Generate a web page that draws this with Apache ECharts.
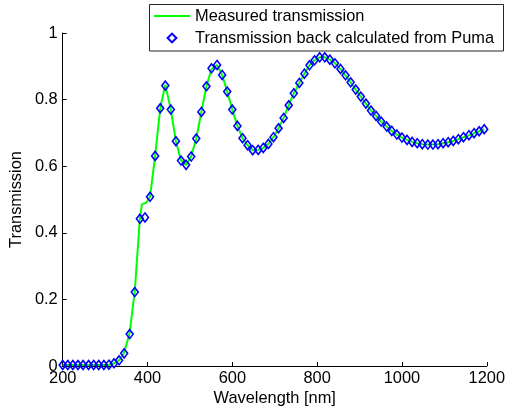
<!DOCTYPE html>
<html>
<head>
<meta charset="utf-8">
<script src="https://cdn.jsdelivr.net/npm/echarts@6/dist/echarts.min.js"></script>
<style>
  html, body { margin: 0; padding: 0; background: #ffffff; }
  #chart { width: 508px; height: 413px; }
</style>
</head>
<body>
<div id="chart"></div>
<script>
// Wavelength grid of the back-calculated transmission (nm)
const wavelengths = [
  200, 212, 224, 236, 248, 261, 273, 285, 297, 309,
  321, 333, 345, 358, 370, 382, 394, 406, 418, 430,
  442, 455, 467, 479, 491, 503, 515, 527, 539, 551,
  564, 576, 588, 600, 612, 624, 636, 648, 661, 673,
  685, 697, 709, 721, 733, 745, 758, 770, 782, 794,
  806, 818, 830, 842, 855, 867, 879, 891, 903, 915,
  927, 939, 951, 964, 976, 988, 1000, 1012, 1024, 1036,
  1048, 1061, 1073, 1085, 1097, 1109, 1121, 1133, 1145, 1158,
  1170, 1182, 1194
];

// Transmission back calculated from Puma
const backCalculated = [
  0.003, 0.003, 0.003, 0.003, 0.003, 0.003, 0.003, 0.003, 0.003, 0.004,
  0.008, 0.017, 0.038, 0.096, 0.222, 0.442, 0.446, 0.508, 0.631, 0.774,
  0.842, 0.770, 0.675, 0.617, 0.604, 0.629, 0.683, 0.763, 0.840, 0.894,
  0.904, 0.874, 0.824, 0.770, 0.721, 0.684, 0.663, 0.648, 0.649, 0.655,
  0.667, 0.687, 0.714, 0.745, 0.783, 0.819, 0.850, 0.878, 0.903, 0.918,
  0.927, 0.927, 0.920, 0.909, 0.892, 0.873, 0.852, 0.830, 0.809, 0.788,
  0.767, 0.751, 0.734, 0.719, 0.706, 0.695, 0.686, 0.679, 0.673, 0.669,
  0.666, 0.665, 0.665, 0.666, 0.669, 0.672, 0.676, 0.681, 0.687, 0.693,
  0.699, 0.705, 0.711
];

// Measured transmission spectrum
const measuredWavelengths = [
  200, 212, 224, 236, 248, 261, 273, 285, 297, 309,
  321, 333, 345, 358, 370, 382, 387, 397, 406, 418, 430,
  442, 455, 467, 479, 491, 503, 515, 527, 539, 551,
  564, 576, 588, 600, 612, 624, 636, 648, 661, 673,
  685, 697, 709, 721, 733, 745, 758, 770, 782, 794,
  806, 818, 830, 842, 855, 867, 879, 891, 903, 915,
  927, 939, 951, 964, 976, 988, 1000, 1012, 1024, 1036,
  1048, 1061, 1073, 1085, 1097, 1109, 1121, 1133, 1145, 1158,
  1170, 1182, 1194
];
const measuredTransmission = [
  0.003, 0.003, 0.003, 0.003, 0.003, 0.003, 0.003, 0.003, 0.003, 0.004,
  0.008, 0.017, 0.040, 0.100, 0.225, 0.443, 0.486, 0.490, 0.508, 0.631, 0.774,
  0.845, 0.770, 0.675, 0.617, 0.604, 0.629, 0.683, 0.763, 0.840, 0.892,
  0.904, 0.874, 0.824, 0.770, 0.721, 0.684, 0.663, 0.648, 0.649, 0.655,
  0.667, 0.687, 0.714, 0.745, 0.783, 0.819, 0.850, 0.878, 0.903, 0.918,
  0.927, 0.927, 0.920, 0.909, 0.892, 0.873, 0.852, 0.830, 0.809, 0.788,
  0.767, 0.751, 0.734, 0.719, 0.706, 0.695, 0.686, 0.679, 0.673, 0.669,
  0.666, 0.665, 0.665, 0.666, 0.669, 0.672, 0.676, 0.681, 0.687, 0.693,
  0.699, 0.705, 0.711
];

// Axis ranges and tick spacing
const xRange = { min: 200, max: 1200, step: 200 };
const yRange = { min: 0, max: 1, step: 0.2 };

const FONT = '"Liberation Sans", Arial, Helvetica, sans-serif';
const FS = 16.4;

const chart = echarts.init(document.getElementById('chart'), null, { renderer: 'canvas' });

const axisCommon = {
  axisLine: { show: true, lineStyle: { color: '#000', width: 1 } },
  axisTick: { show: true, inside: true, length: 4, lineStyle: { color: '#000', width: 1 } },
  splitLine: { show: false },
  axisLabel: { color: '#000', fontSize: FS, fontFamily: FONT, formatter: v => String(v) },
  nameTextStyle: { color: '#000', fontSize: FS, fontFamily: FONT },
  nameLocation: 'middle'
};

chart.setOption({
  animation: false,
  backgroundColor: '#ffffff',
  grid: { left: 58, right: 20, top: 33, bottom: 47, containLabel: false },
  xAxis: Object.assign({}, axisCommon, {
    type: 'value',
    min: xRange.min, max: xRange.max, interval: xRange.step,
    name: 'Wavelength [nm]',
    nameGap: 22,
    axisLabel: Object.assign({}, axisCommon.axisLabel, { margin: 4 })
  }),
  yAxis: Object.assign({}, axisCommon, {
    type: 'value',
    min: yRange.min, max: yRange.max, interval: yRange.step,
    name: 'Transmission',
    nameGap: 33,
    axisLabel: Object.assign({}, axisCommon.axisLabel, { margin: 5 })
  }),
  graphic: [{
    type: 'rect',
    z: 3,
    shape: { x: 149.5, y: 4.5, width: 354, height: 46.5 },
    style: { fill: '#ffffff', stroke: '#262626', lineWidth: 1 }
  }],
  legend: [
    {
      data: ['Measured transmission'],
      selectedMode: false,
      left: 154, top: 8, padding: 0,
      icon: 'rect',
      itemWidth: 36, itemHeight: 2,
      textStyle: { color: '#000', fontSize: FS, fontFamily: FONT },
      z: 4
    },
    {
      data: ['Transmission back calculated from Puma'],
      selectedMode: false,
      left: 154, top: 30, padding: 0,
      itemWidth: 36, itemHeight: 11,
      textStyle: { color: '#000', fontSize: FS, fontFamily: FONT },
      z: 4
    }
  ],
  series: [
    {
      name: 'Measured transmission',
      type: 'line',
      data: measuredWavelengths.map((w, i) => [w, measuredTransmission[i]]),
      symbol: 'none',
      showSymbol: false,
      lineStyle: { color: '#00ff00', width: 2 },
      itemStyle: { color: '#00ff00' },
      z: 2
    },
    {
      name: 'Transmission back calculated from Puma',
      type: 'line',
      data: wavelengths.map((w, i) => [w, backCalculated[i]]),
      symbol: 'diamond',
      symbolSize: [7, 9],
      showSymbol: true,
      showAllSymbol: true,
      lineStyle: { width: 0, opacity: 0 },
      itemStyle: { color: 'rgba(0,0,0,0)', borderColor: '#0000ff', borderWidth: 1.6 },
      z: 3
    }
  ]
});
</script>
</body>
</html>
